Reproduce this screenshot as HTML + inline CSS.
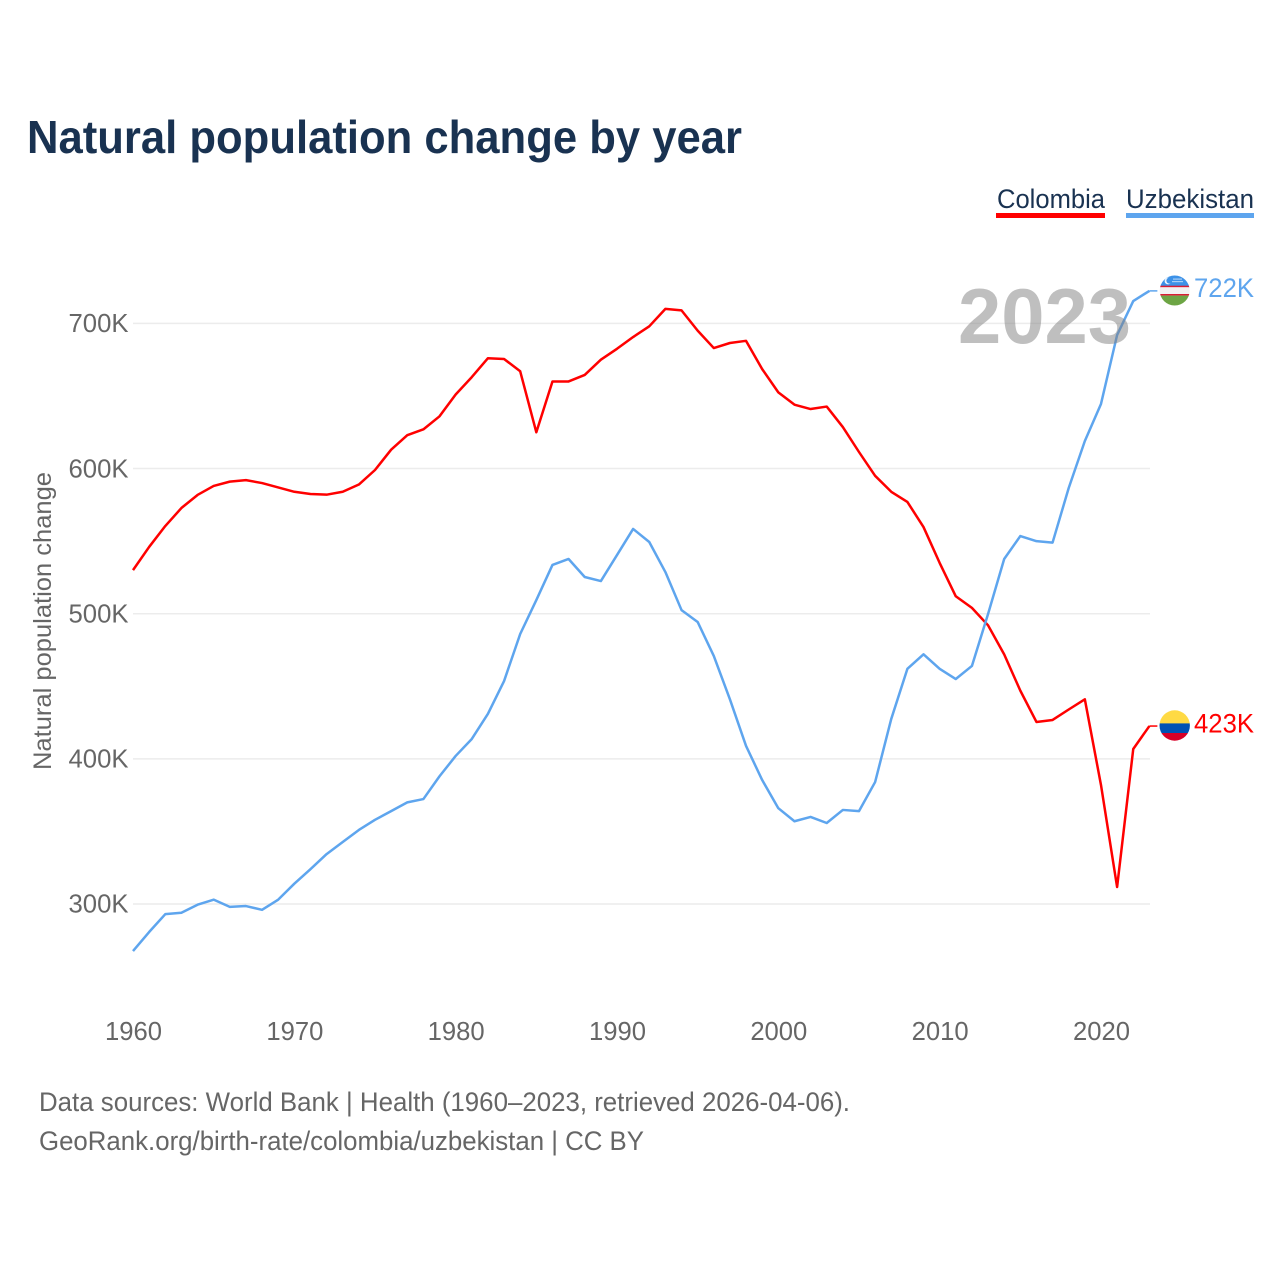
<!DOCTYPE html>
<html lang="en">
<head>
<meta charset="utf-8">
<title>Natural population change by year</title>
<style>
html,body{margin:0;padding:0;background:#fff;width:1280px;height:1280px;overflow:hidden}
svg{display:block;font-family:"Liberation Sans",sans-serif}
</style>
</head>
<body>
<svg id="chart" xmlns="http://www.w3.org/2000/svg" width="1280" height="1280" viewBox="0 0 1280 1280">
  <defs>
    <clipPath id="flag-uz"><circle cx="1174.7" cy="290.5" r="15"/></clipPath>
    <clipPath id="flag-co"><circle cx="1174.7" cy="725.5" r="15.2"/></clipPath>
  </defs>
  <rect width="1280" height="1280" fill="#fff"/>
  <text x="27" y="153" font-size="46.5" font-weight="700" fill="#193251" textLength="715" lengthAdjust="spacingAndGlyphs">Natural population change by year</text>

  <g>
    <text x="997" y="208" font-size="27" fill="#193251" textLength="108" lengthAdjust="spacingAndGlyphs">Colombia</text>
    <rect x="996" y="213" width="109" height="5" fill="#ff0000"/>
  </g>
  <g>
    <text x="1126" y="208" font-size="27" fill="#193251" textLength="128" lengthAdjust="spacingAndGlyphs">Uzbekistan</text>
    <rect x="1126" y="213" width="128" height="5" fill="#5ea5ee"/>
  </g>

  <g id="grid"></g>
  <g id="yticks"></g>
  <g id="xticks"></g>
  <text transform="translate(51,770) rotate(-90)" font-size="25" fill="#666" textLength="298" lengthAdjust="spacingAndGlyphs">Natural population change</text>

  <g id="series"></g>

  <text x="958" y="343" font-size="78" font-weight="700" fill="#808080" fill-opacity="0.5" textLength="173" lengthAdjust="spacingAndGlyphs">2023</text>

  <g clip-path="url(#flag-uz)">
    <rect x="1159" y="275" width="32" height="11" fill="#3d92e8"/>
    <rect x="1159" y="285.7" width="32" height="1.6" fill="#d81e34"/>
    <rect x="1159" y="287.3" width="32" height="6.8" fill="#f2f2f2"/>
    <rect x="1159" y="294" width="32" height="1.6" fill="#d81e34"/>
    <rect x="1159" y="295.6" width="32" height="11" fill="#6da544"/>
    <circle cx="1168" cy="281" r="3.4" fill="#eef5fc"/>
    <circle cx="1169.4" cy="280.6" r="3" fill="#3d92e8"/>
    <rect x="1173" y="278.5" width="9" height="1.2" fill="#a9cff5"/>
    <rect x="1172" y="281" width="11" height="1.2" fill="#a9cff5"/>
  </g>
  <g clip-path="url(#flag-co)">
    <rect x="1159" y="710" width="32" height="13.5" fill="#ffda44"/>
    <rect x="1159" y="723.4" width="32" height="9.8" fill="#0052b4"/>
    <rect x="1159" y="733" width="32" height="9" fill="#d80027"/>
  </g>

  <g id="endlabels"></g>

  <text x="39" y="1111" font-size="27" fill="#666" textLength="811" lengthAdjust="spacingAndGlyphs">Data sources: World Bank | Health (1960–2023, retrieved 2026-04-06).</text>
  <text x="39" y="1150" font-size="27" fill="#666" textLength="605" lengthAdjust="spacingAndGlyphs">GeoRank.org/birth-rate/colombia/uzbekistan | CC BY</text>
</svg>
<script>
const startYear = 1960;
const colombiaValues = [530,546,560.4,572.8,581.8,588,591,592,590,587,584,582.5,582,584,589,599,613,623,627,636,651,663,676,675.5,667,625,660,660,664.5,675,682.5,690.6,698,710,709,695,683,686.5,688,668.5,652.5,644,641,642.7,628.6,611.4,595,584,577,559.7,535,512,504,492,472,447,425.4,426.8,434,441,382,311.7,406.8,422.6];
const uzbekistanValues = [267.6,280.7,293,294,299.5,303,298,298.6,296,303,314,324,334.4,342.7,351,358,364,370,372.3,388,402,413.7,431,453.6,486,509.4,533.6,537.7,525.3,522.5,540.4,558.4,549.4,528.7,502.5,494.3,470.9,441,408.9,385.4,366,357,360,355.8,364.8,364,384,427.5,462,472,462,455,464,499.8,537.7,553.5,550,549,586.6,619,644.5,692,715.4,722.4];
const yTickValues = [300,400,500,600,700];
const xTickYears = [1960,1970,1980,1990,2000,2010,2020];

const NS = 'http://www.w3.org/2000/svg';
function xScale(year) { return 133 + (year - 1960) * 16.133; }
function yScale(v) { return 904 - (v - 300) * 1.4515; }
function make(tag, parent, attrs) {
  const el = document.createElementNS(NS, tag);
  for (const k in attrs) el.setAttribute(k, attrs[k]);
  parent.appendChild(el);
  return el;
}

const grid = document.getElementById('grid');
const yticks = document.getElementById('yticks');
yTickValues.forEach(function (v) {
  const line = make('line', grid, {x1: 133, x2: 1150, y1: yScale(v), y2: yScale(v), stroke: '#ececec', 'stroke-width': 1.5});
  
  
  const t = make('text', yticks, {x: 128.5, y: yScale(v) + 8.7, 'text-anchor': 'end', 'font-size': 25.5, fill: '#666', textLength: 60, lengthAdjust: 'spacingAndGlyphs'});
  t.textContent = v + 'K';
  
  
});

const xticks = document.getElementById('xticks');
xTickYears.forEach(function (y) {
  const t = make('text', xticks, {x: xScale(y) + 0.5, y: 1040, 'text-anchor': 'middle', 'font-size': 25.5, fill: '#666', textLength: 57, lengthAdjust: 'spacingAndGlyphs'});
  t.textContent = String(y);
  
  
});

const seriesGroup = document.getElementById('series');
const endLabels = document.getElementById('endlabels');
function drawSeries(values, color, key) {
  const pts = values.map(function (v, i) { return xScale(startYear + i).toFixed(2) + ',' + yScale(v).toFixed(2); }).join(' ');
  const line = make('polyline', seriesGroup, {points: pts, fill: 'none', stroke: color, 'stroke-width': 2.5, 'stroke-linejoin': 'round'});
  
  
  const last = values[values.length - 1];
  const lastX = xScale(startYear + values.length - 1);
  const lastY = yScale(last);
  const conn = make('line', seriesGroup, {x1: lastX, x2: lastX + 8, y1: lastY, y2: lastY, stroke: color, 'stroke-width': 1.5});
  
  
  const t = make('text', endLabels, {x: 1254, y: lastY + 6.3, 'text-anchor': 'end', 'font-size': 26.5, fill: color, textLength: 60, lengthAdjust: 'spacingAndGlyphs'});
  t.textContent = Math.round(last) + 'K';
  
  
}
drawSeries(colombiaValues, '#ff0000', 'colombia');
drawSeries(uzbekistanValues, '#5ea5ee', 'uzbekistan');
</script>
</body>
</html>
